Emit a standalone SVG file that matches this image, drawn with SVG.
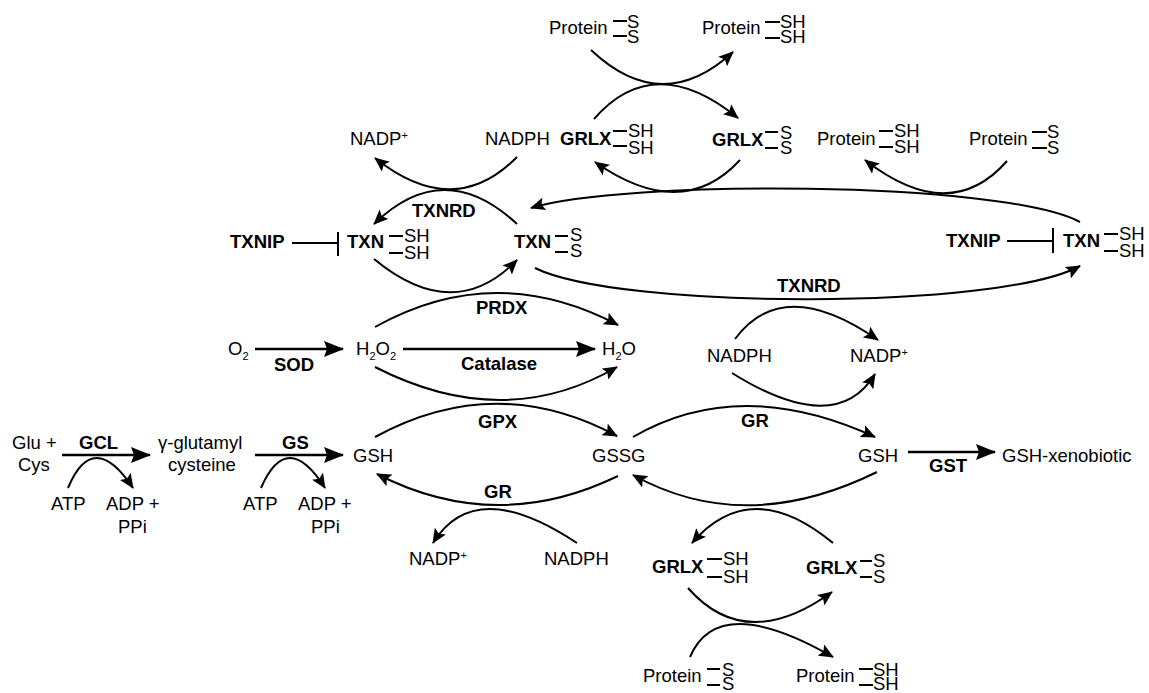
<svg xmlns="http://www.w3.org/2000/svg" width="1149" height="693" viewBox="0 0 1149 693">
<style>
.t{font-family:"Liberation Sans",Arial,Helvetica,sans-serif;font-size:18.5px;fill:#000}
.b{font-weight:bold}
.sub{font-size:11px}
.c{fill:none;stroke:#000;stroke-width:2;marker-end:url(#ah)}
.s{fill:none;stroke:#000;stroke-width:2.5;marker-end:url(#ahb)}
.d{stroke:#000;stroke-width:2;fill:none}
</style>
<defs>
<marker id="ah" viewBox="0 0 15 13" refX="14" refY="6.5" markerWidth="15" markerHeight="13" orient="auto" markerUnits="userSpaceOnUse"><path d="M0,0 L15,6.5 L0,13 L3,6.5 z" fill="#000"/></marker>
<marker id="ahb" viewBox="0 0 20 16" refX="19" refY="8" markerWidth="20" markerHeight="16" orient="auto" markerUnits="userSpaceOnUse"><path d="M0,0 L20,8 L0,16 L3,8 z" fill="#000"/></marker>
</defs>
<rect width="1149" height="693" fill="#fff"/>

<g id="connectors">
<path class="c" d="M591,50 Q662,117 733,52"/>
<path class="c" d="M594,119 Q654,50 738,118"/>
<path class="c" d="M740,160 Q682,223 595,162"/>
<path class="c" d="M517,157 Q454,221 375,158"/>
<path class="c" d="M1007,161 Q950,226 865,160"/>
<path class="c" d="M517,224 Q444,156 374,224"/>
<path class="c" d="M374,259 Q454,325 517,260"/>
<path class="c" d="M1080,222 C1000,180 620,180 531,208"/>
<path class="c" d="M535,268 C620,310 1000,310 1080,266"/>
<path class="c" d="M375,327 Q495,260 618,325"/>
<path class="c" d="M375,367 Q504,433 617,367"/>
<path class="s" d="M255,349 L343,349"/>
<path class="s" d="M403,349 L595,349"/>
<path class="c" d="M735,339 Q783,274 878,340"/>
<path class="c" d="M732,373 Q836,438 875,374"/>
<path class="c" d="M375,437 Q496,371 617,436"/>
<path class="c" d="M618,476 Q496,535 377,474"/>
<path class="c" d="M577,543 Q475,475 433,543"/>
<path class="c" d="M633,437 Q740,375 875,437"/>
<path class="c" d="M877,472 Q745,537 633,475"/>
<path class="s" d="M908,452 L995,452"/>
<path class="c" d="M833,543 Q751,475 692,543"/>
<path class="c" d="M688,588 Q746,654 832,592"/>
<path class="c" d="M690,657 Q718,591 833,657"/>
<path class="s" d="M62,455 L150,455"/>
<path class="s" d="M255,455 L343,455"/>
<path class="c" d="M68,488 Q93,428 133,488"/>
<path class="c" d="M261,488 Q287,428 325,488"/>
<path class="d" d="M292,243 L338,243 M338,232 L338,256"/>
<path class="d" d="M1007,241 L1053,241 M1053,228 L1053,253"/>
</g>

<g id="protein-ss-top">
<text class="t" x="549" y="34">Protein</text>
<path class="d" d="M613,21 H627 M613,36 H627"/>
<text class="t" x="627" y="28">S<tspan x="627" y="43">S</tspan></text>
</g>
<g id="protein-sh-top">
<text class="t" x="702" y="34">Protein</text>
<path class="d" d="M765,22 H780 M765,38 H780"/>
<text class="t" x="780" y="28">SH<tspan x="780" y="43">SH</tspan></text>
</g>

<g id="nadp-top"><text class="t" x="350" y="145">NADP<tspan class="sub" dy="-6">+</tspan></text></g>
<g id="nadph-top"><text class="t" x="485" y="145">NADPH</text></g>
<g id="grlx-sh-top">
<text class="t b" x="560" y="145">GRLX</text>
<path class="d" d="M613,131 H627 M613,146 H627"/>
<text class="t" x="628" y="137">SH<tspan x="628" y="154">SH</tspan></text>
</g>
<g id="grlx-ss-top">
<text class="t b" x="712" y="146">GRLX</text>
<path class="d" d="M765,132 H778 M765,148 H778"/>
<text class="t" x="780" y="139">S<tspan x="780" y="154">S</tspan></text>
</g>
<g id="protein-sh-right">
<text class="t" x="817" y="145">Protein</text>
<path class="d" d="M879,131 H893 M879,147 H893"/>
<text class="t" x="894" y="137">SH<tspan x="894" y="153">SH</tspan></text>
</g>
<g id="protein-ss-right">
<text class="t" x="969" y="145">Protein</text>
<path class="d" d="M1032,132 H1047 M1032,148 H1047"/>
<text class="t" x="1047" y="138">S<tspan x="1047" y="154">S</tspan></text>
</g>

<g id="txnip-left"><text class="t b" x="230" y="248">TXNIP</text></g>
<g id="txn-sh-left">
<text class="t b" x="347" y="248">TXN</text>
<path class="d" d="M389,236 H403 M389,253 H403"/>
<text class="t" x="404" y="242">SH<tspan x="404" y="259">SH</tspan></text>
</g>
<g id="txnrd-top"><text class="t b" x="412" y="217">TXNRD</text></g>
<g id="txn-ss">
<text class="t b" x="514" y="248">TXN</text>
<path class="d" d="M555,236 H568 M555,252 H568"/>
<text class="t" x="570" y="241">S<tspan x="570" y="257">S</tspan></text>
</g>
<g id="txnip-right"><text class="t b" x="946" y="247">TXNIP</text></g>
<g id="txn-sh-right">
<text class="t b" x="1063" y="247">TXN</text>
<path class="d" d="M1104,234 H1118 M1104,251 H1118"/>
<text class="t" x="1119" y="240">SH<tspan x="1119" y="257">SH</tspan></text>
</g>
<g id="txnrd-bottom"><text class="t b" x="777" y="292">TXNRD</text></g>

<g id="o2"><text class="t" x="228" y="355">O<tspan class="sub" dy="5">2</tspan></text></g>
<g id="sod"><text class="t b" x="274" y="371">SOD</text></g>
<g id="h2o2"><text class="t" x="356" y="355">H<tspan class="sub" dy="5">2</tspan><tspan dy="-5">O</tspan><tspan class="sub" dy="5">2</tspan></text></g>
<g id="prdx"><text class="t b" x="476" y="314">PRDX</text></g>
<g id="catalase"><text class="t b" x="461" y="370">Catalase</text></g>
<g id="h2o"><text class="t" x="602" y="355">H<tspan class="sub" dy="5">2</tspan><tspan dy="-5">O</tspan></text></g>
<g id="nadph-mid"><text class="t" x="707" y="362">NADPH</text></g>
<g id="nadp-mid"><text class="t" x="850" y="362">NADP<tspan class="sub" dy="-6">+</tspan></text></g>

<g id="glu-cys"><text class="t" x="12" y="449">Glu +<tspan x="18" y="471">Cys</tspan></text></g>
<g id="gcl"><text class="t b" x="79" y="449">GCL</text></g>
<g id="atp1"><text class="t" x="51" y="510">ATP</text></g>
<g id="adp1"><text class="t" x="106" y="510">ADP +<tspan x="118" y="533">PPi</tspan></text></g>
<g id="glutamylcysteine"><text class="t" x="158" y="449">γ-glutamyl<tspan x="168" y="471">cysteine</tspan></text></g>
<g id="gs"><text class="t b" x="282" y="449">GS</text></g>
<g id="atp2"><text class="t" x="243" y="510">ATP</text></g>
<g id="adp2"><text class="t" x="298" y="510">ADP +<tspan x="311" y="533">PPi</tspan></text></g>
<g id="gsh-left"><text class="t" x="353" y="462">GSH</text></g>
<g id="gpx"><text class="t b" x="478" y="428">GPX</text></g>
<g id="gr-left"><text class="t b" x="484" y="498">GR</text></g>
<g id="gssg"><text class="t" x="592" y="462">GSSG</text></g>
<g id="gr-right"><text class="t b" x="741" y="427">GR</text></g>
<g id="gsh-right"><text class="t" x="858" y="462">GSH</text></g>
<g id="gst"><text class="t b" x="929" y="472">GST</text></g>
<g id="gsh-xenobiotic"><text class="t" x="1002" y="462">GSH-xenobiotic</text></g>

<g id="nadp-bottom"><text class="t" x="409" y="565">NADP<tspan class="sub" dy="-6">+</tspan></text></g>
<g id="nadph-bottom"><text class="t" x="544" y="565">NADPH</text></g>
<g id="grlx-sh-bottom">
<text class="t b" x="652" y="573">GRLX</text>
<path class="d" d="M707,559 H722 M707,577 H722"/>
<text class="t" x="723" y="565">SH<tspan x="723" y="583">SH</tspan></text>
</g>
<g id="grlx-ss-bottom">
<text class="t b" x="806" y="574">GRLX</text>
<path class="d" d="M860,561 H872 M860,577 H872"/>
<text class="t" x="873" y="567">S<tspan x="873" y="583">S</tspan></text>
</g>
<g id="protein-ss-bottom">
<text class="t" x="643" y="682">Protein</text>
<path class="d" d="M707,669 H720 M707,685 H720"/>
<text class="t" x="722" y="676">S<tspan x="722" y="690">S</tspan></text>
</g>
<g id="protein-sh-bottom">
<text class="t" x="796" y="682">Protein</text>
<path class="d" d="M859,669 H873 M859,685 H873"/>
<text class="t" x="873" y="676">SH<tspan x="873" y="690">SH</tspan></text>
</g>
</svg>
